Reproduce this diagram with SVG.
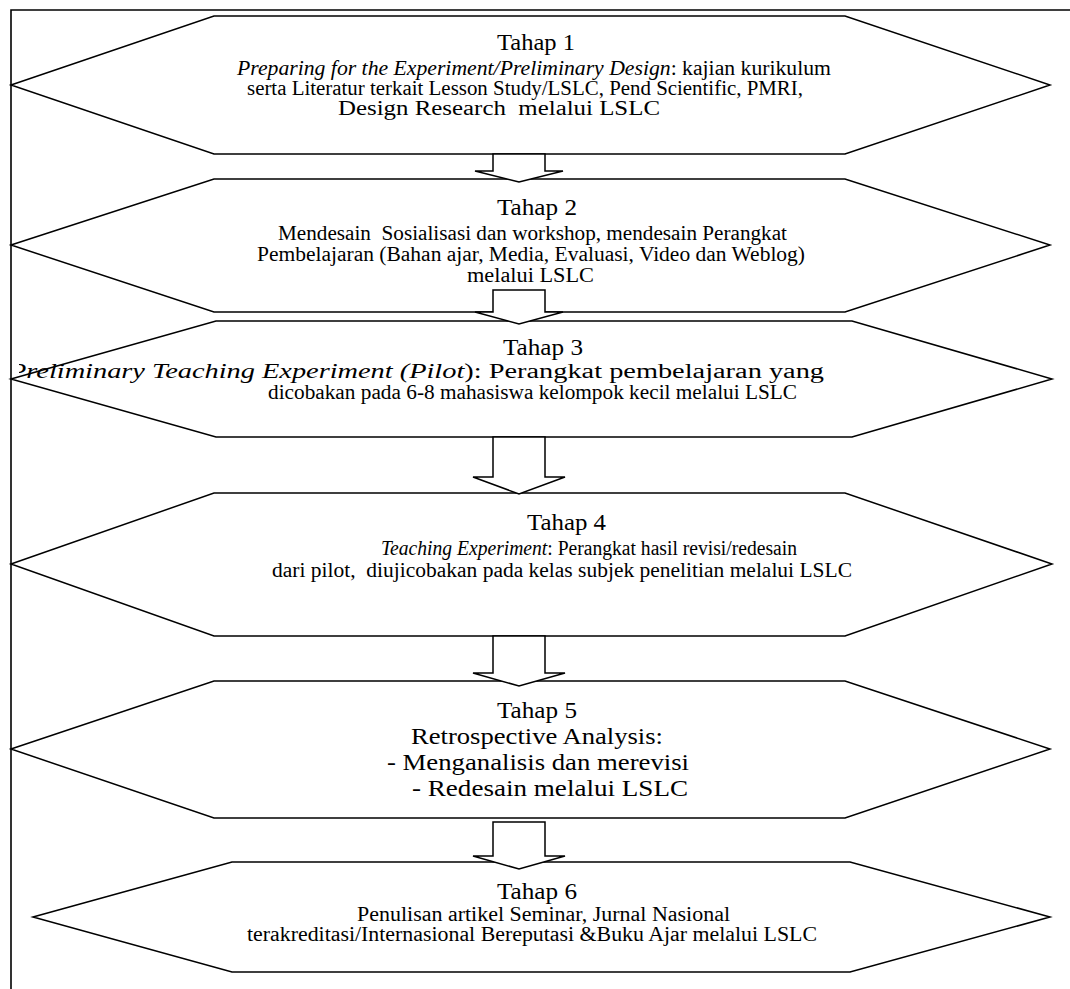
<svg xmlns="http://www.w3.org/2000/svg" width="1070" height="989" viewBox="0 0 1070 989">
<style>
.frame{fill:none;stroke:#000;stroke-width:1.6}
.hex{fill:#fff;stroke:#000;stroke-width:1.5;stroke-linejoin:miter}
.arr{fill:#fff;stroke:#000;stroke-width:1.5;stroke-linejoin:miter}
text{font-family:"Liberation Serif","Times New Roman",serif;fill:#000;white-space:pre}
.t{font-size:24px}
.b{font-size:20.5px}
.b5{font-size:24px}
.b6{font-size:20px}
.i{font-style:italic}
</style>
<defs>
<clipPath id="clip3"><rect x="19" y="300" width="1051" height="150"/></clipPath>
</defs>
<rect width="1070" height="989" fill="#fff"/>
<path class="frame" d="M11,989 V10 H1070"/>
<g id="tahap1"><polygon class="hex" points="11,85 214,16 845,16 1050,85 845,154 214,154"/></g>
<g id="tahap2"><polygon class="hex" points="11,245 214,179 845,179 1050,245 845,312 214,312"/></g>
<g id="tahap3"><polygon class="hex" points="11,379 216,321 852,321 1052,379 852,437 216,437"/></g>
<g id="tahap4"><polygon class="hex" points="11,564 214,493 845,493 1052,564 845,636 214,636"/></g>
<g id="tahap5"><polygon class="hex" points="11,749 214,681 845,681 1050,749 845,818 214,818"/></g>
<g id="tahap6"><polygon class="hex" points="33,917 232,862 850,862 1050,917 850,972 232,972"/></g>
<g id="connectors">
<polygon class="arr" points="493,154 545,154 545,171 563,171 519,182 475,171 493,171"/>
<polygon class="arr" points="493,290 545,290 545,312 563,312 519,324 475,312 493,312"/>
<polygon class="arr" points="493,437 545,437 545,477 565,477 519,494 473,477 493,477"/>
<polygon class="arr" points="493,636 545,636 545,673 565,673 519,686 473,673 493,673"/>
<polygon class="arr" points="493,822 545,822 545,856 565,856 519,869 473,856 493,856"/>
</g>
<g id="text1">
<text class="t" x="497" y="50" textLength="78" lengthAdjust="spacingAndGlyphs">Tahap 1</text>
<text class="b" x="237" y="75" textLength="594" lengthAdjust="spacingAndGlyphs"><tspan class="i">Preparing for the Experiment/Preliminary Design</tspan>: kajian kurikulum</text>
<text class="b" x="247" y="95" textLength="556" lengthAdjust="spacingAndGlyphs">serta Literatur terkait Lesson Study/LSLC, Pend Scientific, PMRI,</text>
<text class="b" x="338" y="115" textLength="322" lengthAdjust="spacingAndGlyphs">Design Research  melalui LSLC</text>
</g>
<g id="text2">
<text class="t" x="497" y="215" textLength="80" lengthAdjust="spacingAndGlyphs">Tahap 2</text>
<text class="b" x="278" y="240" textLength="509" lengthAdjust="spacingAndGlyphs">Mendesain  Sosialisasi dan workshop, mendesain Perangkat</text>
<text class="b" x="257" y="261" textLength="548" lengthAdjust="spacingAndGlyphs">Pembelajaran (Bahan ajar, Media, Evaluasi, Video dan Weblog)</text>
<text class="b" x="467" y="282" textLength="127" lengthAdjust="spacingAndGlyphs">melalui LSLC</text>
</g>
<g id="text3">
<text class="t" x="503" y="355" textLength="80" lengthAdjust="spacingAndGlyphs">Tahap 3</text>
<g clip-path="url(#clip3)"><text class="b" x="9" y="378" textLength="815" lengthAdjust="spacingAndGlyphs"><tspan class="i">Preliminary Teaching Experiment (Pilot</tspan>): Perangkat pembelajaran yang</text></g>
<text class="b" x="268" y="399" textLength="529" lengthAdjust="spacingAndGlyphs">dicobakan pada 6-8 mahasiswa kelompok kecil melalui LSLC</text>
</g>
<g id="text4">
<text class="t" x="527" y="530" textLength="79" lengthAdjust="spacingAndGlyphs">Tahap 4</text>
<text class="b" x="381" y="555" textLength="416" lengthAdjust="spacingAndGlyphs"><tspan class="i">Teaching Experiment</tspan>: Perangkat hasil revisi/redesain</text>
<text class="b" x="272" y="577" textLength="580" lengthAdjust="spacingAndGlyphs">dari pilot,  diujicobakan pada kelas subjek penelitian melalui LSLC</text>
</g>
<g id="text5">
<text class="t" x="497" y="718" textLength="80" lengthAdjust="spacingAndGlyphs">Tahap 5</text>
<text class="b5" x="411" y="744" textLength="252" lengthAdjust="spacingAndGlyphs">Retrospective Analysis:</text>
<text class="b5" x="387" y="770" textLength="302" lengthAdjust="spacingAndGlyphs">- Menganalisis dan merevisi</text>
<text class="b5" x="412" y="796" textLength="276" lengthAdjust="spacingAndGlyphs">- Redesain melalui LSLC</text>
</g>
<g id="text6">
<text class="t" x="497" y="899" textLength="80" lengthAdjust="spacingAndGlyphs">Tahap 6</text>
<text class="b6" x="357" y="921" textLength="373" lengthAdjust="spacingAndGlyphs">Penulisan artikel Seminar, Jurnal Nasional</text>
<text class="b6" x="247" y="941" textLength="570" lengthAdjust="spacingAndGlyphs">terakreditasi/Internasional Bereputasi &amp;Buku Ajar melalui LSLC</text>
</g>
</svg>
